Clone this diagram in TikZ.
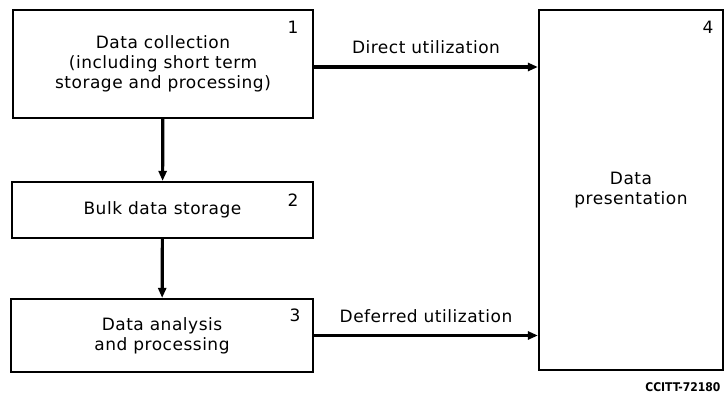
\documentclass[tikz,border=0pt]{standalone}
\usepackage{fontspec}
\setmainfont{DejaVu Sans}[LetterSpace=3]
\newfontfamily\tagfont{DejaVu Sans Condensed}
\usetikzlibrary{arrows.meta}
\tikzset{>={Triangle[length=10pt,width=8pt]}}
\tikzset{%
    block/.style={draw,line width=2.2pt,align=center,inner sep=0pt,
        font=\fontsize{17}{20}\selectfont},
    flow/.style={->,line width=3.2pt},
    num/.style={font=\fontsize{17}{20}\selectfont}
}

\begin{document}
\begin{tikzpicture}[x=1pt,y=-1pt]
    \useasboundingbox (0,0) rectangle (724,403);
    \node[block,minimum width=300pt,minimum height=108pt] (collect) at (163,64)
        {Data collection\\(including short term\\storage and processing)};
    \node[block,minimum width=301pt,minimum height=56pt] (bulk) at (162.5,210)
        {Bulk data storage};
    \node[block,minimum width=302pt,minimum height=73pt] (analysis) at (162,335.5)
        {Data analysis\\and processing};
    \node[block,minimum width=184pt,minimum height=360pt] (present) at (631,190)
        {Data\\presentation};
	% box numbers
    \node[num] (n1) at (293,27) {1};
    \node[num] (n2) at (293,200) {2};
    \node[num] (n3) at (295,315) {3};
    \node[num] (n4) at (708,27) {4};
	% connections
    \draw[flow] (collect) -- (bulk);
    \draw[flow] (bulk) -- (analysis);
    \draw[flow] ([yshift=-3pt]collect.east) -- ([yshift=-3pt]collect.east -| present.west)
        node[midway,above=8pt,num] (direct) {Direct utilization};
    \draw[flow] (analysis.east) -- (analysis.east -| present.west)
        node[midway,above=8pt,num] (deferred) {Deferred utilization};
    \node[anchor=east,font=\tagfont\bfseries\fontsize{12}{14}\selectfont] (tag) at (724,387) {CCITT-72180};
\end{tikzpicture}
\end{document}
